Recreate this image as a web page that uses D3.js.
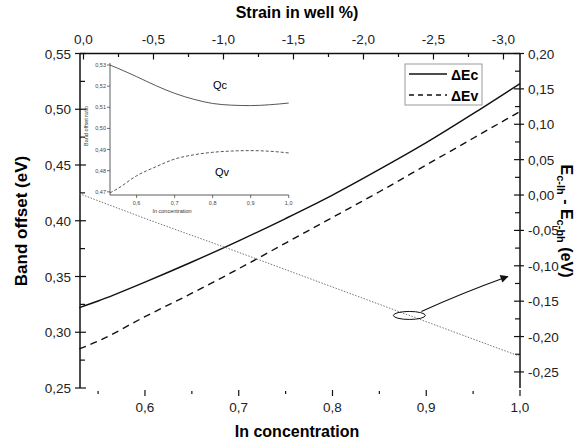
<!DOCTYPE html>
<html>
<head>
<meta charset="utf-8">
<script src="https://cdn.jsdelivr.net/npm/d3@7"></script>
<style>
  html, body { margin: 0; padding: 0; background: #fff; }
  svg text { font-family: "Liberation Sans", Arial, sans-serif; }
</style>
</head>
<body>
<svg id="chart" width="585" height="442"></svg>
<script>
// ---- data ----
var inX   = [0.53, 0.55, 0.60, 0.65, 0.70, 0.75, 0.80, 0.85, 0.90, 0.95, 1.00]
var dEc   = [0.322, 0.328, 0.345, 0.363, 0.382, 0.402, 0.423, 0.446, 0.470, 0.496, 0.523]
var dEv   = [0.285, 0.292, 0.314, 0.335, 0.357, 0.380, 0.403, 0.426, 0.450, 0.474, 0.498]

var splitX = [0.53, 0.60, 0.70, 0.80, 0.90, 1.00]
var split  = [0.002, -0.033, -0.081, -0.130, -0.179, -0.228]   // E c-lh - E c-hh (right axis)

// inset: band offset ratio
var qX  = [0.53, 0.55, 0.60, 0.65, 0.70, 0.75, 0.80, 0.85, 0.90, 0.95, 1.00]
var qc  = [0.5300, 0.5285, 0.5245, 0.5203, 0.5166, 0.5138, 0.5118, 0.5110, 0.5108, 0.5112, 0.5120]
var qv  = [0.4695, 0.4715, 0.4776, 0.4818, 0.4855, 0.4875, 0.4887, 0.4893, 0.4895, 0.4892, 0.4884]

var leftTicks   = [0.25, 0.30, 0.35, 0.40, 0.45, 0.50, 0.55]
var rightTicks  = [0.20, 0.15, 0.10, 0.05, 0.00, -0.05, -0.10, -0.15, -0.20, -0.25]
var bottomTicks = [0.6, 0.7, 0.8, 0.9, 1.0]
var strainTicks = [0.0, -0.5, -1.0, -1.5, -2.0, -2.5, -3.0]
var insetYTicks = [0.47, 0.48, 0.49, 0.50, 0.51, 0.52, 0.53]
var insetXTicks = [0.6, 0.7, 0.8, 0.9, 1.0]

var legendLabels = ["\u0394Ec", "\u0394Ev"]

// annotation: ring on the dotted curve, arrow to the right axis
var ringIn = 0.882
var arrowTo = { x: 0.987, v: -0.115 }

// ---- scales ----
var L = 80, R = 520, T = 53.5, B = 388

var x    = d3.scaleLinear().domain([0.5307, 1.0]).range([L, R])
var xTop = d3.scaleLinear().domain([0.025, -3.118]).range([L, R])
var yL   = d3.scaleLinear().domain([0.25, 0.55]).range([B, T])
var yR   = d3.scaleLinear().domain([-0.2727, 0.20]).range([B, T])

var loc = d3.formatLocale({ decimal: ",", thousands: ".", grouping: [3], currency: ["", ""], minus: "-" })
var f2 = loc.format(".2f"), f1 = loc.format(".1f")

var svg = d3.select('#chart')
var ink = '#111'

function tick(g, x1, y1, x2, y2, w) {
  g.append('line').attr('x1', x1).attr('y1', y1).attr('x2', x2).attr('y2', y2)
    .attr('stroke', ink).attr('stroke-width', w || 1.2)
}

/*
  axes of the main plot
*/
var ax = svg.append('g')

// left
tick(ax, L, T, L, B, 1.5)
leftTicks.forEach(function(v) {
  tick(ax, L - 5, yL(v), L + 6, yL(v))
  ax.append('text').attr('x', 71).attr('y', yL(v) + 5)
    .attr('text-anchor', 'end').attr('font-size', 13.5).attr('fill', '#222').text(f2(v))
})
d3.range(0.275, 0.55, 0.05).forEach(function(v) { tick(ax, L, yL(v), L + 5, yL(v)) })

// right
tick(ax, R, T, R, B, 1.5)
rightTicks.forEach(function(v) {
  tick(ax, R - 6, yR(v), R + 4, yR(v))
  ax.append('text').attr('x', 528).attr('y', yR(v) + 5)
    .attr('font-size', 13.5).attr('fill', '#222').text(f2(v))
})
d3.range(-0.225, 0.2, 0.05).forEach(function(v) { tick(ax, R - 5, yR(v), R, yR(v)) })

// top (strain)
tick(ax, L, T, R, T, 1.5)
strainTicks.forEach(function(v) {
  tick(ax, xTop(v), T, xTop(v), T + 6)
  ax.append('text').attr('x', xTop(v)).attr('y', 44)
    .attr('text-anchor', 'middle').attr('font-size', 13.5).attr('fill', '#222').text(f1(v))
})
d3.range(-0.25, -3.1, -0.5).forEach(function(v) { tick(ax, xTop(v), T, xTop(v), T + 3.5) })

// bottom (no line, ticks only)
bottomTicks.forEach(function(v) {
  tick(ax, x(v), B + 2, x(v), B + 8)
  ax.append('text').attr('x', x(v)).attr('y', 412)
    .attr('text-anchor', 'middle').attr('font-size', 13.5).attr('fill', '#222').text(f1(v))
})
d3.range(0.55, 1.0, 0.1).forEach(function(v) { tick(ax, x(v), B + 3, x(v), B + 6) })

// titles
ax.append('text').attr('x', 297).attr('y', 18).attr('text-anchor', 'middle')
  .attr('font-size', 16).attr('font-weight', 'bold').text('Strain in well %)')
ax.append('text').attr('x', 297).attr('y', 437).attr('text-anchor', 'middle')
  .attr('font-size', 16).attr('font-weight', 'bold').text('In concentration')
ax.append('text').attr('transform', 'translate(27,221) rotate(-90)').attr('text-anchor', 'middle')
  .attr('font-size', 17).attr('font-weight', 'bold').text('Band offset (eV)')

var rt = ax.append('text').attr('transform', 'translate(561,221) rotate(90)').attr('text-anchor', 'middle')
  .attr('font-size', 16).attr('font-weight', 'bold')
rt.append('tspan').text('E')
rt.append('tspan').attr('font-size', 11).attr('dy', 4).text('c-lh')
rt.append('tspan').attr('dy', -4).text(' - E')
rt.append('tspan').attr('font-size', 11).attr('dy', 4).text('c-hh')
rt.append('tspan').attr('dy', -4).text(' (eV)')

/*
  curves
*/
var lineL = d3.line().curve(d3.curveMonotoneX).x(d => x(d[0])).y(d => yL(d[1]))
var lineR = d3.line().curve(d3.curveMonotoneX).x(d => x(d[0])).y(d => yR(d[1]))

svg.append('path').datum(inX.map((v, i) => [v, dEc[i]]))
  .attr('d', lineL).attr('fill', 'none').attr('stroke', ink).attr('stroke-width', 1.4)
svg.append('path').datum(inX.map((v, i) => [v, dEv[i]]))
  .attr('d', lineL).attr('fill', 'none').attr('stroke', ink).attr('stroke-width', 1.4)
  .attr('stroke-dasharray', '7,5')
svg.append('path').datum(splitX.map((v, i) => [v, split[i]]))
  .attr('d', lineR).attr('fill', 'none').attr('stroke', '#777').attr('stroke-width', 1)
  .attr('stroke-dasharray', '1.5,1.5')

// ring + arrow
var ringV = d3.scaleLinear().domain(splitX).range(split)(ringIn)
var cx = x(ringIn), cy = yR(ringV)
svg.append('ellipse').attr('cx', cx).attr('cy', cy).attr('rx', 16).attr('ry', 4)
  .attr('fill', 'none').attr('stroke', ink).attr('stroke-width', 1)
svg.append('defs').append('marker').attr('id', 'ah').attr('viewBox', '0 0 10 10')
  .attr('refX', 9).attr('refY', 5).attr('markerWidth', 10).attr('markerHeight', 8)
  .attr('markerUnits', 'userSpaceOnUse').attr('orient', 'auto')
  .append('path').attr('d', 'M0,0L10,5L0,10Z').attr('fill', ink)
var ax2 = x(arrowTo.x), ay2 = yR(arrowTo.v)
svg.append('path')
  .attr('d', 'M' + (cx + 12) + ',' + (cy - 4) + 'Q' + ((cx + ax2) / 2 + 2) + ',' + (cy - 22) + ' ' + ax2 + ',' + ay2)
  .attr('fill', 'none').attr('stroke', ink).attr('stroke-width', 1.1).attr('marker-end', 'url(#ah)')

/*
  legend
*/
var lg = svg.append('g')
lg.append('rect').attr('x', 405).attr('y', 64).attr('width', 77).attr('height', 41)
  .attr('fill', '#fff').attr('stroke', '#999').attr('stroke-width', 1)
legendLabels.forEach(function(t, i) {
  var yy = 74 + i * 21
  lg.append('line').attr('x1', 409).attr('x2', 447).attr('y1', yy).attr('y2', yy)
    .attr('stroke', ink).attr('stroke-width', 1.4).attr('stroke-dasharray', i ? '5,4' : null)
  lg.append('text').attr('x', 451).attr('y', yy + 6).attr('font-size', 14)
    .attr('font-weight', 'bold').text(t)
})

/*
  inset
*/
var xi = d3.scaleLinear().domain([0.53, 1.0]).range([110, 288.7])
var yi = d3.scaleLinear().domain([0.4685, 0.531]).range([195, 62.9])
var ins = svg.append('g')
var gray = '#333'
ins.append('line').attr('x1', 110).attr('x2', 110).attr('y1', yi(0.531)).attr('y2', yi(0.4685))
  .attr('stroke', gray).attr('stroke-width', 0.8)
ins.append('line').attr('x1', 110).attr('x2', 288.7).attr('y1', 195).attr('y2', 195)
  .attr('stroke', gray).attr('stroke-width', 0.8)
insetYTicks.forEach(function(v) {
  ins.append('line').attr('x1', 107).attr('x2', 110).attr('y1', yi(v)).attr('y2', yi(v))
    .attr('stroke', gray).attr('stroke-width', 0.7)
  ins.append('text').attr('x', 106).attr('y', yi(v) + 2).attr('text-anchor', 'end')
    .attr('font-size', 5.5).attr('fill', '#444').text(f2(v))
})
insetXTicks.forEach(function(v) {
  ins.append('line').attr('x1', xi(v)).attr('x2', xi(v)).attr('y1', 195).attr('y2', 198)
    .attr('stroke', gray).attr('stroke-width', 0.7)
  ins.append('text').attr('x', xi(v)).attr('y', 205).attr('text-anchor', 'middle')
    .attr('font-size', 5.5).attr('fill', '#444').text(f1(v))
})
ins.append('text').attr('x', 172).attr('y', 213).attr('text-anchor', 'middle')
  .attr('font-size', 5.5).attr('fill', '#333').text('In concentration')
ins.append('text').attr('transform', 'translate(88,126) rotate(-90)').attr('text-anchor', 'middle')
  .attr('font-size', 5.5).attr('fill', '#333').text('Band offset ratio')

var lineI = d3.line().curve(d3.curveMonotoneX).x(d => xi(d[0])).y(d => yi(d[1]))
ins.append('path').datum(qX.map((v, i) => [v, qc[i]])).attr('d', lineI)
  .attr('fill', 'none').attr('stroke', '#444').attr('stroke-width', 0.9)
ins.append('path').datum(qX.map((v, i) => [v, qv[i]])).attr('d', lineI)
  .attr('fill', 'none').attr('stroke', '#444').attr('stroke-width', 0.9).attr('stroke-dasharray', '3,2')
ins.append('text').attr('x', 220).attr('y', 89).attr('text-anchor', 'middle').attr('font-size', 11).text('Qc')
ins.append('text').attr('x', 222).attr('y', 176).attr('text-anchor', 'middle').attr('font-size', 11).text('Qv')
</script>
</body>
</html>
